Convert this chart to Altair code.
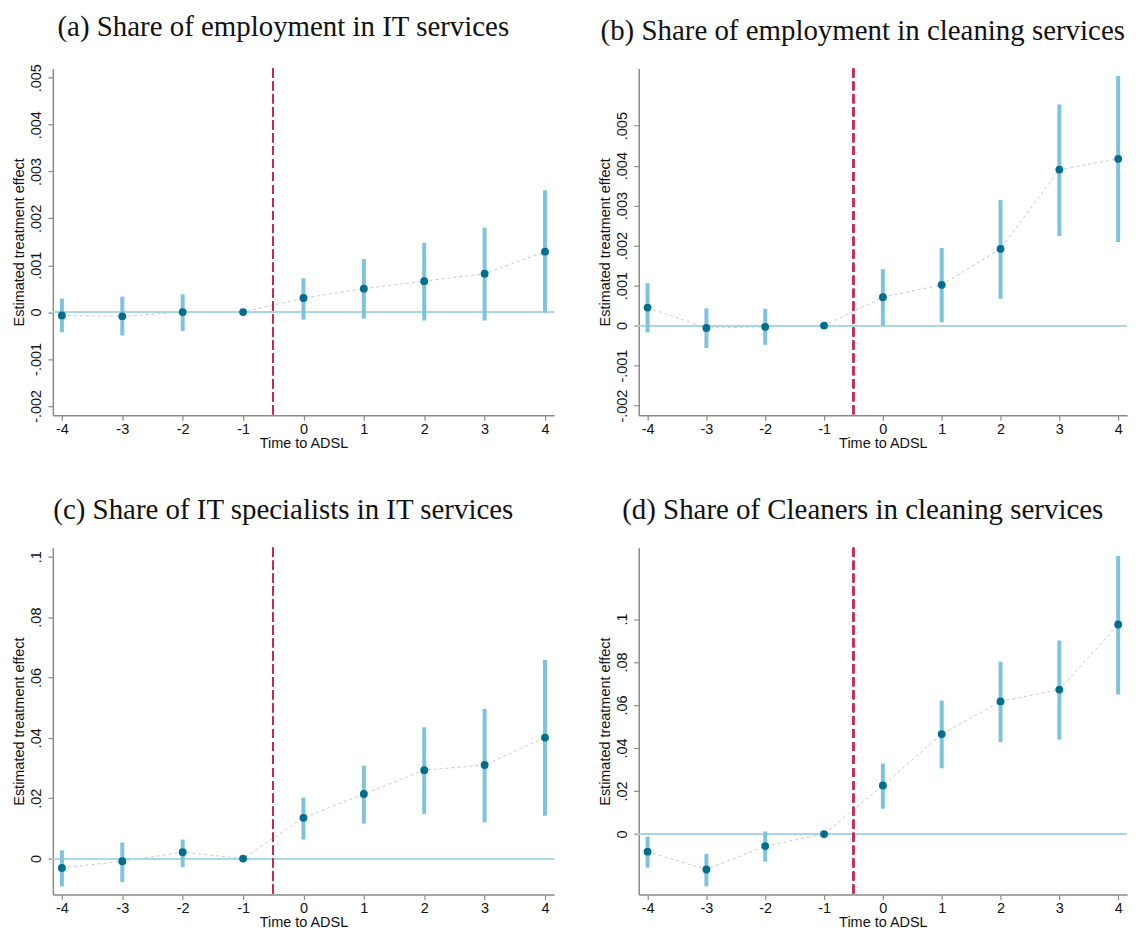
import altair as alt
import pandas as pd

time = [-4, -3, -2, -1, 0, 1, 2, 3, 4]

# (a) Share of employment in IT services
a_est = [-0.00007, -0.00009, 0.0, 0.0, 0.00030, 0.00050, 0.00066, 0.00082, 0.00129]
a_lo = [-0.00043, -0.00050, -0.00040, 0.0, -0.00016, -0.00014, -0.00018, -0.00018, -0.00001]
a_hi = [0.00029, 0.00033, 0.00038, 0.0, 0.00072, 0.00113, 0.00148, 0.00180, 0.00260]

# (b) Share of employment in cleaning services
b_est = [0.00045, -0.00006, -0.00003, 0.0, 0.00071, 0.00102, 0.00192, 0.00390, 0.00417]
b_lo = [-0.00017, -0.00056, -0.00048, 0.0, 0.00000, 0.00008, 0.00067, 0.00224, 0.00209]
b_hi = [0.00106, 0.00043, 0.00042, 0.0, 0.00141, 0.00194, 0.00314, 0.00553, 0.00624]

# (c) Share of IT specialists in IT services
c_est = [-0.0031, -0.0009, 0.0021, 0.0, 0.0135, 0.0214, 0.0293, 0.0310, 0.0401]
c_lo = [-0.0092, -0.0078, -0.0028, 0.0, 0.0063, 0.0116, 0.0148, 0.0120, 0.0142]
c_hi = [0.0027, 0.0053, 0.0063, 0.0, 0.0202, 0.0308, 0.0435, 0.0496, 0.0658]

# (d) Share of Cleaners in cleaning services
d_est = [-0.0082, -0.0165, -0.0056, 0.0, 0.0226, 0.0465, 0.0617, 0.0672, 0.0975]
d_lo = [-0.0156, -0.0243, -0.0128, 0.0, 0.0118, 0.0306, 0.0428, 0.0439, 0.0649]
d_hi = [-0.0012, -0.0092, 0.0012, 0.0, 0.0328, 0.0621, 0.0802, 0.0900, 0.1294]

titles = [
    "(a) Share of employment in IT services",
    "(b) Share of employment in cleaning services",
    "(c) Share of IT specialists in IT services",
    "(d) Share of Cleaners in cleaning services",
]

small_ticks = [-0.002, -0.001, 0, 0.001, 0.002, 0.003, 0.004, 0.005]
small_labels = ["-.002", "-.001", "0", ".001", ".002", ".003", ".004", ".005"]
large_ticks = [0, 0.02, 0.04, 0.06, 0.08, 0.1]
large_labels = ["0", ".02", ".04", ".06", ".08", ".1"]

x_labels = ["-4", "-3", "-2", "-1", "0", "1", "2", "3", "4"]

ydomains = [
    [-0.0022, 0.0052],
    [-0.00224, 0.00643],
    [-0.0119, 0.103],
    [-0.0281, 0.1332],
]

EVENT_X = -0.5

CI_COLOR = "#7ec3de"
PT_COLOR = "#006f8e"
RED = "#c02b52"
ZERO_COLOR = "#a9d5e6"
LINE_COLOR = "#c8c8c8"
AXIS_COLOR = "#8a8a8a"


def label_expr(vals, labs):
    expr = "''"
    for v, l in reversed(list(zip(vals, labs))):
        expr = f"datum.value == {v} ? '{l}' : ({expr})"
    return expr


def panel(est, lo, hi, title, ydom, yticks, ylabels, width):
    df = pd.DataFrame({"t": time, "est": est, "lo": lo, "hi": hi})
    xs = alt.Scale(domain=[-4.15, 4.15], nice=False, zero=False)
    ys = alt.Scale(domain=ydom, nice=False, zero=False)
    xaxis = alt.Axis(
        values=time,
        labelExpr=label_expr(time, x_labels),
        title="Time to ADSL",
        titlePadding=1,
        labelPadding=2,
        tickSize=5,
    )
    yaxis = alt.Axis(
        values=yticks,
        labelExpr=label_expr(yticks, ylabels),
        title="Estimated treatment effect",
        labelAngle=270,
        labelAlign="center",
        labelBaseline="bottom",
        labelPadding=4,
        titlePadding=2,
        tickSize=5,
    )

    def X(f):
        return alt.X(f, type="quantitative", scale=xs, axis=xaxis)

    def Y(f):
        return alt.Y(f, type="quantitative", scale=ys, axis=yaxis)

    base = alt.Chart(df)
    zero = base.mark_rule(color=ZERO_COLOR, strokeWidth=1.2).encode(y=alt.datum(0))
    vline = base.mark_rule(color=RED, strokeWidth=1.5, strokeDash=[9, 4]).encode(
        x=alt.datum(EVENT_X)
    )
    line = base.mark_line(color=LINE_COLOR, strokeWidth=1, strokeDash=[3, 3]).encode(
        x=X("t"), y=Y("est")
    )
    ci = base.mark_rule(color=CI_COLOR, strokeWidth=4).encode(
        x=X("t"), y=Y("lo"), y2="hi"
    )
    pts = base.mark_circle(color=PT_COLOR, size=62, opacity=1).encode(
        x=X("t"), y=Y("est")
    )
    return alt.layer(line, zero, vline, ci, pts).properties(
        width=width,
        height=348,
        title=alt.TitleParams(
            title,
            font="Liberation Serif",
            fontSize=29,
            fontWeight="normal",
            color="#111111",
            anchor="middle",
            frame="bounds",
            offset=22,
        ),
    )


pa = panel(a_est, a_lo, a_hi, titles[0], ydomains[0], small_ticks, small_labels, 503)
pb = panel(b_est, b_lo, b_hi, titles[1], ydomains[1], small_ticks, small_labels, 490)
pc = panel(c_est, c_lo, c_hi, titles[2], ydomains[2], large_ticks, large_labels, 503)
pd_ = panel(d_est, d_lo, d_hi, titles[3], ydomains[3], large_ticks, large_labels, 490)

chart = (
    alt.vconcat(
        alt.hconcat(pa, pb, spacing=43),
        alt.hconcat(pc, pd_, spacing=43),
        spacing=46,
    )
    .properties(padding={"left": 3, "top": 3, "right": 0, "bottom": 0}, background="white")
    .configure_view(stroke=None)
    .configure_axis(
        grid=False,
        domainColor=AXIS_COLOR,
        domainWidth=1.5,
        tickColor=AXIS_COLOR,
        tickWidth=1.2,
        labelFont="Liberation Sans",
        labelFontSize=14.5,
        labelColor="#111111",
        titleFont="Liberation Sans",
        titleFontSize=14.5,
        titleFontWeight="normal",
        titleColor="#111111",
    )
)

chart.save("out.html", embed_options={"renderer": "svg", "actions": False})
